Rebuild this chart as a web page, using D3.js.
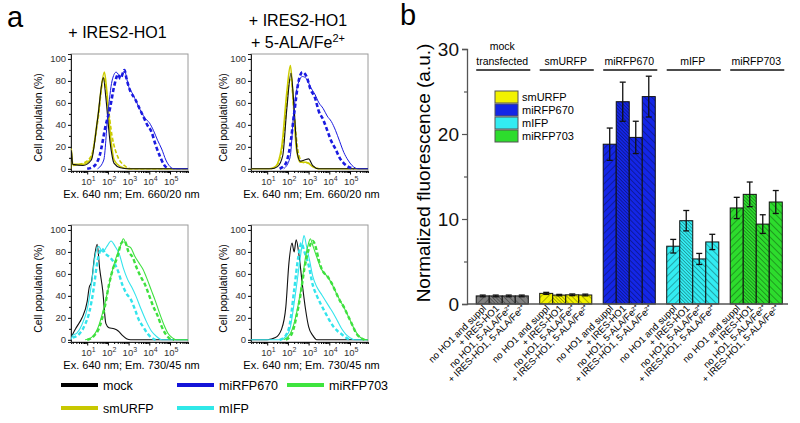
<!DOCTYPE html>
<html><head><meta charset="utf-8">
<script src="https://cdn.jsdelivr.net/npm/d3@7"></script>
<style>body{margin:0;background:#fff}svg{display:block;font-family:"Liberation Sans",Arial,sans-serif}</style>
</head><body><svg id="c" width="800" height="423"></svg>
<script>
// ---------- Panel a data: [log10 intensity, cell population %] ----------
const tlMock = [[0.217,0],[0.23,17],[0.3,4],[0.8,3],[1.2,8],[1.5,45],[1.78,83],[1.9,65],[2.1,25],[2.3,5],[2.6,1],[3,0],[5.87,0]];
const tlSm   = [[0.217,0],[0.23,18],[0.3,4],[0.8,4],[1.2,10],[1.5,45],[1.83,88],[1.95,70],[2.1,35],[2.3,8],[2.6,2],[3,0],[5.87,0]];
const tlSmD  = [[0.3,3],[0.8,5],[1.2,12],[1.5,42],[1.8,83],[2.0,58],[2.2,30],[2.5,10],[2.8,3],[3.1,0],[5.87,0]];
const tl670  = [[1.5,0],[1.8,8],[2.0,50],[2.2,80],[2.4,88],[2.6,84],[2.8,89],[3.0,75],[3.2,68],[3.4,60],[3.6,52],[3.8,46],[4.0,42],[4.2,35],[4.4,26],[4.6,18],[4.8,8],[5.0,2],[5.2,0],[5.87,0]];
const tl670D = [[1.0,0],[1.3,2],[1.6,12],[1.9,40],[2.1,55],[2.3,75],[2.5,86],[2.6,82],[2.8,90],[2.9,82],[3.1,70],[3.3,64],[3.5,56],[3.7,48],[3.9,40],[4.1,34],[4.3,22],[4.5,12],[4.7,4],[4.9,0]];

const trMock = [[0.217,0],[1.2,0],[1.5,2],[1.75,12],[1.95,55],[2.15,87],[2.3,55],[2.45,15],[2.6,7],[2.8,8],[3.0,9],[3.2,3],[3.5,0],[5.87,0]];
const trSm   = [[0.217,0],[1.1,0],[1.4,2],[1.7,20],[1.95,70],[2.12,94],[2.25,65],[2.4,20],[2.6,6],[2.9,6],[3.2,2],[3.5,0],[5.87,0]];
const trSmD  = [[1.2,0],[1.5,4],[1.8,30],[2.05,78],[2.15,83],[2.3,50],[2.5,15],[2.7,6],[3.0,5],[3.3,1],[3.5,0]];
const tr670  = [[1.8,0],[2.1,10],[2.3,55],[2.5,78],[2.7,84],[2.9,82],[3.1,74],[3.3,68],[3.5,60],[3.7,55],[3.9,48],[4.1,43],[4.3,35],[4.5,25],[4.7,15],[4.9,8],[5.1,3],[5.4,0],[5.87,0]];
const tr670D = [[1.6,0],[1.9,5],[2.1,20],[2.3,50],[2.5,78],[2.7,88],[2.9,84],[3.1,72],[3.3,65],[3.5,52],[3.7,45],[3.9,35],[4.1,25],[4.3,18],[4.5,10],[4.7,5],[4.9,2],[5.2,0]];

const blMock = [[0.217,1],[0.3,5],[0.5,12],[0.75,20],[1.0,35],[1.1,48],[1.2,52],[1.35,75],[1.48,87],[1.6,65],[1.75,45],[1.9,15],[2.05,11],[2.3,10],[2.5,8],[2.7,4],[2.9,1],[3.1,0],[5.87,0]];
const blIfp  = [[0.217,0],[0.3,4],[0.5,6],[0.75,14],[1.0,28],[1.2,50],[1.4,78],[1.55,85],[1.75,80],[1.95,85],[2.15,90],[2.35,85],[2.55,78],[2.75,65],[2.95,55],[3.15,48],[3.35,40],[3.6,28],[3.85,17],[4.1,8],[4.35,3],[4.6,0],[5.87,0]];
const blIfpD = [[0.3,2],[0.6,5],[0.9,14],[1.1,25],[1.3,45],[1.5,72],[1.7,83],[1.9,78],[2.1,75],[2.3,70],[2.5,62],[2.7,50],[2.9,42],[3.1,37],[3.3,28],[3.5,18],[3.7,12],[3.9,6],[4.1,2],[4.3,0]];
const bl703  = [[0.9,0],[1.2,2],[1.5,10],[1.75,25],[2.0,45],[2.2,62],[2.4,75],[2.6,85],[2.75,92],[2.9,86],[3.1,84],[3.3,76],[3.5,70],[3.7,64],[3.9,55],[4.1,45],[4.3,35],[4.5,24],[4.7,14],[4.9,6],[5.1,2],[5.3,0],[5.87,0]];
const bl703D = [[1.0,0],[1.3,3],[1.6,12],[1.85,30],[2.05,50],[2.25,65],[2.45,75],[2.65,88],[2.8,90],[3.0,80],[3.2,75],[3.4,65],[3.6,57],[3.8,50],[4.0,40],[4.2,30],[4.4,22],[4.6,12],[4.8,5],[5.0,1],[5.2,0]];

const brMock = [[0.217,0],[1.0,0],[1.4,2],[1.7,10],[1.9,30],[2.05,70],[2.2,88],[2.3,80],[2.4,91],[2.55,75],[2.7,50],[2.85,28],[3.0,12],[3.2,4],[3.4,0],[5.87,0]];
const brIfp  = [[0.217,0],[1.6,0],[1.9,3],[2.1,10],[2.35,40],[2.55,68],[2.7,88],[2.78,95],[2.9,85],[3.05,72],[3.2,58],[3.4,48],[3.6,42],[3.8,36],[4.0,30],[4.2,24],[4.4,17],[4.6,10],[4.8,5],[5.0,2],[5.2,0],[5.87,0]];
const brIfpD = [[1.6,0],[1.9,4],[2.1,15],[2.3,45],[2.5,75],[2.65,88],[2.8,80],[3.0,68],[3.2,50],[3.4,40],[3.6,32],[3.8,25],[4.0,18],[4.2,12],[4.4,8],[4.6,5],[4.8,2],[5.0,0]];
const br703  = [[1.8,0],[2.1,5],[2.3,15],[2.5,32],[2.7,55],[2.85,75],[3.0,88],[3.08,92],[3.2,86],[3.4,75],[3.6,65],[3.8,60],[4.0,55],[4.2,48],[4.4,40],[4.6,33],[4.8,26],[5.0,18],[5.2,10],[5.4,4],[5.6,1],[5.8,0],[5.87,0]];
const br703D = [[1.9,0],[2.2,6],[2.4,20],[2.6,40],[2.8,65],[3.0,82],[3.2,90],[3.35,84],[3.5,72],[3.7,62],[3.9,58],[4.1,52],[4.3,44],[4.5,36],[4.7,30],[4.9,22],[5.1,14],[5.3,6],[5.5,2],[5.7,0]];

const histYTicks = [0, 20, 40, 60, 80, 100];
const histXDecades = [1, 2, 3, 4, 5];
const legendA = [["mock","#000000"],["miRFP670","#1414d8"],["miRFP703","#3ee43e"],["smURFP","#c8c800"],["mIFP","#30e8e8"]];

// ---------- Panel b data ----------
const groups = ["mock transfected", "smURFP", "miRFP670", "mIFP", "miRFP703"];
const conditions = ["no HO1 and suppl", "+ IRES-HO1", "no HO1, 5-ALA/Fe²⁺", "+ IRES-HO1, 5-ALA/Fe²⁺"];
const mockVals = [0.95, 0.95, 0.95, 0.95];
const mockErr  = [0.1, 0.1, 0.1, 0.1];
const smurfpVals = [1.25, 1.05, 1.08, 1.06];
const smurfpErr  = [0.12, 0.08, 0.1, 0.1];
const mirfp670Vals = [18.8, 23.8, 19.6, 24.4];
const mirfp670Err  = [1.9, 2.3, 1.9, 2.4];
const mifpVals = [6.8, 9.8, 5.3, 7.3];
const mifpErr  = [0.8, 1.2, 0.65, 0.9];
const mirfp703Vals = [11.3, 12.9, 9.4, 12.0];
const mirfp703Err  = [1.25, 1.45, 1.1, 1.35];
const yTicksB = [0, 10, 20, 30];
const legendB = ["smURFP", "miRFP670", "mIFP", "miRFP703"];

const svg = d3.select("#c");
const FONT = '"Liberation Sans",Arial,sans-serif';

// ---------- Panel a ----------
svg.append("text").attr("x", 7).attr("y", 27).attr("font-size", 29).text("a");
svg.append("text").attr("x", 117.5).attr("y", 38).attr("text-anchor","middle").attr("font-size", 16).text("+ IRES2-HO1");
svg.append("text").attr("x", 298).attr("y", 26).attr("text-anchor","middle").attr("font-size", 16).text("+ IRES2-HO1");
const t2 = svg.append("text").attr("x", 298).attr("y", 48).attr("text-anchor","middle").attr("font-size", 16);
t2.append("tspan").text("+ 5-ALA/Fe");
t2.append("tspan").attr("dy", -6).attr("font-size", 11).text("2+");

const W = 117, H = 117;
function hist(id, ox, oy, ylx, curves, xlabel) {
  const x = d3.scaleLog().domain([10 ** 0.217, 10 ** 5.87]).range([ox, ox + W]);
  const y = d3.scaleLinear().domain([-2, 104.5]).range([oy + H, oy]);
  const g = svg.append("g");
  g.append("clipPath").attr("id", id).append("rect").attr("x", ox).attr("y", oy).attr("width", W).attr("height", H);
  g.append("rect").attr("x", ox).attr("y", oy).attr("width", W).attr("height", H)
    .attr("fill", "none").attr("stroke", "#9a9a9a").attr("stroke-width", 1);
  const ya = g.append("g").attr("transform", `translate(${ox},0)`)
    .call(d3.axisLeft(y).tickValues(histYTicks).tickSize(3).tickPadding(2));
  ya.select(".domain").attr("stroke", "#222");
  ya.selectAll("text").attr("font-size", 9.5).attr("fill", "#333").attr("font-family", FONT);
  const ym = g.append("g").attr("transform", `translate(${ox},0)`)
    .call(d3.axisLeft(y).tickValues([10,30,50,70,90]).tickSize(2).tickFormat(""));
  ym.select(".domain").remove();
  const minor = [];
  for (let e = 0; e <= 5; e++) for (let m = 2; m <= 9; m++) { const v = m * 10 ** e; if (v > 10 ** 0.217 && v < 10 ** 5.87) minor.push(v); }
  const xm = g.append("g").attr("transform", `translate(0,${oy + H})`)
    .call(d3.axisBottom(x).tickValues(minor).tickSize(2).tickFormat(""));
  xm.select(".domain").attr("stroke", "#222");
  const xa = g.append("g").attr("transform", `translate(0,${oy + H})`)
    .call(d3.axisBottom(x).tickValues(histXDecades.map(d => 10 ** d)).tickSize(3.5).tickFormat(""));
  xa.select(".domain").remove();
  histXDecades.forEach(d => {
    const t = g.append("text").attr("x", x(10 ** d) - 6).attr("y", oy + H + 14)
      .attr("font-size", 9.5).attr("fill", "#333");
    t.append("tspan").text("10");
    t.append("tspan").attr("dy", -4.5).attr("font-size", 7).text(d);
  });
  g.append("text").attr("transform", `translate(${ylx},${oy + H / 2 + 5}) rotate(-90)`)
    .attr("text-anchor", "middle").attr("font-size", 10.5).text("Cell population (%)");
  g.append("text").attr("x", ox + W / 2 + 2).attr("y", oy + H + 27).attr("text-anchor", "middle")
    .attr("font-size", 11).text(xlabel);
  const line = d3.line().x(d => x(10 ** d[0])).y(d => y(d[1])).curve(d3.curveMonotoneX);
  const cg = g.append("g").attr("clip-path", `url(#${id})`);
  curves.forEach(c => {
    cg.append("path").datum(c.data).attr("d", line).attr("fill", "none")
      .attr("stroke", c.color).attr("stroke-width", c.w)
      .attr("stroke-dasharray", c.dash || null).attr("stroke-linejoin", "round");
  });
}
const Y = "#cccc00", B = "#1a1ae0", C = "#33e4ec", G = "#3ee03e";
hist("c1", 71, 54, 42, [
  {data: tlSmD, color: Y, w: 1.6, dash: "4,2"},
  {data: tlSm, color: Y, w: 1.6},
  {data: tlMock, color: "#111", w: 1.1},
  {data: tl670, color: B, w: 1},
  {data: tl670D, color: B, w: 2.6, dash: "4,2.5"}
], "Ex. 640 nm; Em. 660/20 nm");
hist("c2", 251, 54, 227, [
  {data: trSmD, color: Y, w: 1.6, dash: "4,2"},
  {data: trSm, color: Y, w: 1.6},
  {data: trMock, color: "#111", w: 1.1},
  {data: tr670, color: B, w: 1},
  {data: tr670D, color: B, w: 2.6, dash: "4,2.5"}
], "Ex. 640 nm; Em. 660/20 nm");
hist("c3", 71, 225, 42, [
  {data: blMock, color: "#111", w: 1.1},
  {data: blIfp, color: C, w: 1.1},
  {data: blIfpD, color: C, w: 2.4, dash: "4,2.5"},
  {data: bl703, color: G, w: 1.1},
  {data: bl703D, color: G, w: 2.4, dash: "4,2.5"}
], "Ex. 640 nm; Em. 730/45 nm");
hist("c4", 251, 225, 227, [
  {data: brMock, color: "#111", w: 1.1},
  {data: brIfp, color: C, w: 1.1},
  {data: brIfpD, color: C, w: 2.4, dash: "4,2.5"},
  {data: br703, color: G, w: 1.1},
  {data: br703D, color: G, w: 2.4, dash: "4,2.5"}
], "Ex. 640 nm; Em. 730/45 nm");

// legend a
const legPos = [[61, 385], [177, 385], [287, 385], [61, 408], [177, 408]];
legendA.forEach((d, i) => {
  const [lx, ly] = legPos[i];
  svg.append("line").attr("x1", lx).attr("x2", lx + 37).attr("y1", ly).attr("y2", ly)
    .attr("stroke", d[1]).attr("stroke-width", 4);
  svg.append("text").attr("x", lx + 42).attr("y", ly + 4.5).attr("font-size", 12.5).text(d[0]);
});

// ---------- Panel b ----------
svg.append("text").attr("x", 400).attr("y", 25).attr("font-size", 29).text("b");
const allVals = [mockVals, smurfpVals, mirfp670Vals, mifpVals, mirfp703Vals];
const allErr = [mockErr, smurfpErr, mirfp670Err, mifpErr, mirfp703Err];
const barColors = ["#808080", "#f2f200", "#1426e6", "#33ecf2", "#2ddc2d"];
const legColors = {"smURFP": "#f2f200", "miRFP670": "#1426e6", "mIFP": "#33ecf2", "miRFP703": "#2ddc2d"};

const x0 = d3.scaleBand().domain(groups).range([470.5, 788]).paddingInner(0.18).paddingOuter(0.09);
const x1 = d3.scaleBand().domain(conditions).range([0, x0.bandwidth()]);
const yb = d3.scaleLinear().domain([0, 30]).range([304, 49]);

const defs = svg.append("defs");
const pats = [{id: "h0", s: 5, r: 45}, {id: "h1", s: 2.4, r: -45}, {id: "h2", s: 3.6, r: -45}, {id: "h3", s: 5, r: -45}];
pats.forEach(p => {
  const pt = defs.append("pattern").attr("id", p.id).attr("patternUnits", "userSpaceOnUse")
    .attr("width", p.s).attr("height", p.s).attr("patternTransform", `rotate(${p.r})`);
  pt.append("line").attr("x1", 0).attr("y1", 0).attr("x2", 0).attr("y2", p.s)
    .attr("stroke", "#000").attr("stroke-opacity", 0.75).attr("stroke-width", 0.8);
});

groups.forEach((gName, gi) => {
  const gg = svg.append("g").attr("transform", `translate(${x0(gName)},0)`);
  conditions.forEach((c, ci) => {
    const v = allVals[gi][ci], e = allErr[gi][ci];
    const bx = x1(c), bw = x1.bandwidth();
    gg.append("rect").attr("x", bx).attr("y", yb(v)).attr("width", bw).attr("height", yb(0) - yb(v))
      .attr("fill", barColors[gi]);
    gg.append("rect").attr("x", bx).attr("y", yb(v)).attr("width", bw).attr("height", yb(0) - yb(v))
      .attr("fill", `url(#h${ci})`).attr("stroke", "#111").attr("stroke-width", 1);
    const cx = bx + bw / 2;
    gg.append("line").attr("x1", cx).attr("x2", cx).attr("y1", yb(v - e)).attr("y2", yb(v + e))
      .attr("stroke", "#111").attr("stroke-width", 1.3);
    [v - e, v + e].forEach(t => gg.append("line").attr("x1", cx - 3).attr("x2", cx + 3)
      .attr("y1", yb(t)).attr("y2", yb(t)).attr("stroke", "#111").attr("stroke-width", 1.3));
    gg.append("text").attr("transform", `translate(${cx + 4},${309}) rotate(-45)`)
      .attr("text-anchor", "end").attr("font-size", 9.5).text(c);
  });
  const hx = x0(gName) + x0.bandwidth() / 2;
  if (gName === "mock transfected") {
    svg.append("text").attr("x", hx).attr("y", 50).attr("text-anchor", "middle").attr("font-size", 10.5).text("mock");
    svg.append("text").attr("x", hx).attr("y", 65).attr("text-anchor", "middle").attr("font-size", 10.5).text("transfected");
  } else {
    svg.append("text").attr("x", hx).attr("y", 65).attr("text-anchor", "middle").attr("font-size", 10.5).text(gName);
  }
  svg.append("line").attr("x1", x0(gName)).attr("x2", x0(gName) + x0.bandwidth() + 2)
    .attr("y1", 70).attr("y2", 70).attr("stroke", "#111").attr("stroke-width", 1.6);
});

const yAx = svg.append("g").attr("transform", "translate(467,0)")
  .call(d3.axisLeft(yb).tickValues(yTicksB).tickSize(5).tickPadding(3));
yAx.selectAll("text").attr("font-size", 19).attr("font-family", FONT).attr("fill", "#111");
yAx.select(".domain").attr("stroke", "#555").attr("stroke-width", 1.3);
yAx.selectAll(".tick line").attr("stroke", "#555").attr("stroke-width", 1.2);
const yMin = svg.append("g").attr("transform", "translate(467,0)")
  .call(d3.axisLeft(yb).tickValues([5, 15, 25]).tickSize(3).tickFormat(""));
yMin.select(".domain").remove();
yMin.selectAll(".tick line").attr("stroke", "#555").attr("stroke-width", 1.2);
svg.append("line").attr("x1", 467).attr("x2", 788).attr("y1", yb(0)).attr("y2", yb(0))
  .attr("stroke", "#555").attr("stroke-width", 1.5);
svg.append("text").attr("transform", "translate(430,173) rotate(-90)").attr("text-anchor", "middle")
  .attr("font-size", 19).text("Normalized fluorescence (a.u.)");

legendB.forEach((n, i) => {
  svg.append("rect").attr("x", 495).attr("y", 91 + i * 13).attr("width", 23).attr("height", 12)
    .attr("fill", legColors[n]).attr("stroke", "#555").attr("stroke-width", 1);
  svg.append("text").attr("x", 522).attr("y", 101 + i * 13).attr("font-size", 11).text(n);
});
</script></body></html>
